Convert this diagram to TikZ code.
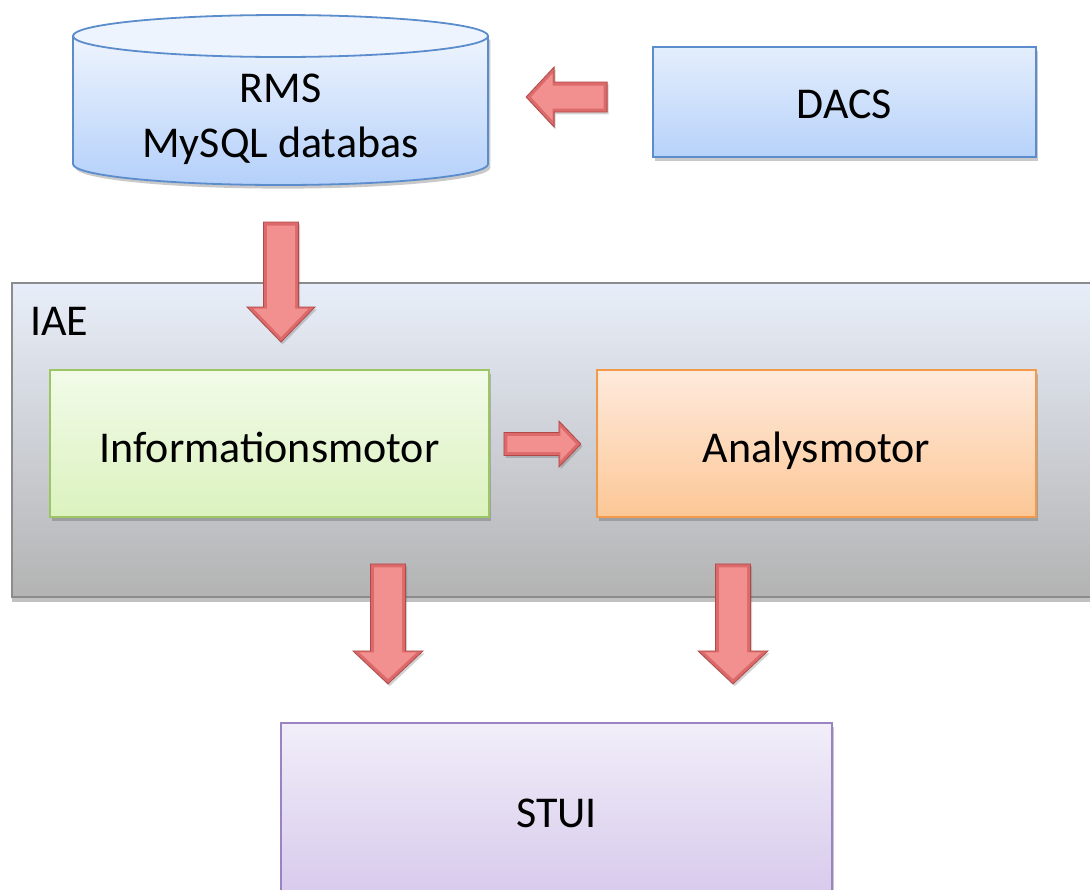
\documentclass[tikz,border=0pt]{standalone}
\usepackage{fontspec}
\setmainfont{Carlito}
\usetikzlibrary{shadows,calc}

\definecolor{dbTop}{HTML}{EEF4FD}
\definecolor{dbBot}{HTML}{B4D0FA}
\definecolor{dbLine}{HTML}{5B8CCB}
\definecolor{dacsTop}{HTML}{E4EEFC}
\definecolor{dacsBot}{HTML}{B7D2FA}
\definecolor{iaeTop}{HTML}{E8EEF9}
\definecolor{iaeMid}{HTML}{DEE0E5}
\definecolor{iaeBot}{HTML}{B3B3B3}
\definecolor{iaeLine}{HTML}{8C8C8C}
\definecolor{infoTop}{HTML}{F2FBE9}
\definecolor{infoBot}{HTML}{DBF2BE}
\definecolor{infoLine}{HTML}{9CC563}
\definecolor{anaTop}{HTML}{FEEADC}
\definecolor{anaBot}{HTML}{FCC796}
\definecolor{anaLine}{HTML}{F39A4A}
\definecolor{stuiTop}{HTML}{F1EEF9}
\definecolor{stuiBot}{HTML}{D6C8EB}
\definecolor{stuiLine}{HTML}{9B83C2}
\definecolor{arrOut}{HTML}{DC6A6A}
\definecolor{arrFace}{HTML}{F29090}
\definecolor{arrLine}{HTML}{B04A4A}

\tikzset{
  softshadow/.style={drop shadow={shadow xshift=1.2pt, shadow yshift=-1.8pt, opacity=.3, fill=black!70}},
  box/.style={draw, line width=0.9pt, softshadow, inner sep=0pt},
  textbase/.style={text height=#1, text depth=0pt},
  arrowouter/.style={fill=arrOut, draw=arrLine, line width=0.4pt,
    drop shadow={shadow xshift=0.8pt, shadow yshift=-1.2pt, opacity=.25, fill=black!70}},
  arrowface/.style={fill=arrFace},
  pics/blockarrow/.style n args={4}{code={
    % #1 total length, #2 half shaft width, #3 half head width, #4 head length
    \pgfmathsetmacro\baT{#1}
    \pgfmathsetmacro\baS{#2}
    \pgfmathsetmacro\baH{#3}
    \pgfmathsetmacro\baB{#1-#4}
    \path[arrowouter] (0,-\baS) -- (\baB,-\baS) -- (\baB,-\baH) -- (\baT,0)
      -- (\baB,\baH) -- (\baB,\baS) -- (0,\baS) -- cycle;
    \path[arrowface] (3.5,{-\baS+3.5}) -- ({\baB+1.5},{-\baS+3.5}) -- ({\baB+1.5},{-\baH+6.5})
      -- ({\baT-5},0) -- ({\baB+1.5},{\baH-6.5}) -- ({\baB+1.5},{\baS-3.5}) -- (3.5,{\baS-3.5}) -- cycle;
  }}
}

\begin{document}
\begin{tikzpicture}[x=0.5pt, y=-0.5pt, font=\fontsize{22}{27.5}\selectfont]
\useasboundingbox (0,0) rectangle (1090,889);
\clip (0,0) rectangle (1090,889);

% RMS database cylinder
\path[top color=dbTop, bottom color=dbBot, draw=dbLine, line width=0.9pt, softshadow]
  (73,36) -- (73,164) arc[start angle=180, end angle=0, x radius=207.5, y radius=21]
  -- (488,36) -- cycle;
\path[fill=dbTop, draw=dbLine, line width=0.9pt] (280.5,36) ellipse[x radius=207.5, y radius=21];
\node[align=center, inner sep=0pt] (rms) at (280.5,119) {RMS\\MySQL databas};

% DACS
\node[box, draw=dbLine, top color=dacsTop, bottom color=dacsBot, textbase=16pt,
  minimum width=191.5pt, minimum height=55pt] (dacs) at (844.5,102) {DACS};

% IAE container
\path[draw=iaeLine, line width=0.9pt, top color=iaeTop, middle color=iaeMid, bottom color=iaeBot,
  drop shadow={shadow xshift=0pt, shadow yshift=-2.5pt, opacity=.35, fill=black!70}]
  (12,283) rectangle (1110,597);
\node[anchor=west, inner sep=0pt] (iae) at (30,321) {IAE};

% Engines
\node[box, draw=infoLine, top color=infoTop, bottom color=infoBot, textbase=19pt,
  minimum width=219.5pt, minimum height=73.5pt] (info) at (269.5,443.5) {Informationsmotor};
\node[box, draw=anaLine, top color=anaTop, bottom color=anaBot, textbase=19pt,
  minimum width=219.5pt, minimum height=73.5pt] (ana) at (816.5,443.5) {Analysmotor};

% STUI
\path[draw=stuiLine, line width=0.9pt, top color=stuiTop, bottom color=stuiBot, softshadow]
  (281,723) rectangle (832,905);
\node[inner sep=0pt] (stui) at (556.5,813) {STUI};

% Block arrows
\pic[rotate=180] at ($(dacs.west)+(-45,-5)$) {blockarrow={81}{15}{30}{28}};
\pic[rotate=-90] at ($(rms.center)+(0.5,103)$) {blockarrow={120}{17.5}{34}{35}};
\pic at ($(info.east)+(14,0.5)$) {blockarrow={77}{11.5}{23}{22}};
\pic[rotate=-90] at ($(info.south)+(118.5,46)$) {blockarrow={120}{17.5}{35}{33}};
\pic[rotate=-90] at ($(ana.south)+(-83.5,46)$) {blockarrow={120}{17.5}{35}{33}};
\end{tikzpicture}
\end{document}
